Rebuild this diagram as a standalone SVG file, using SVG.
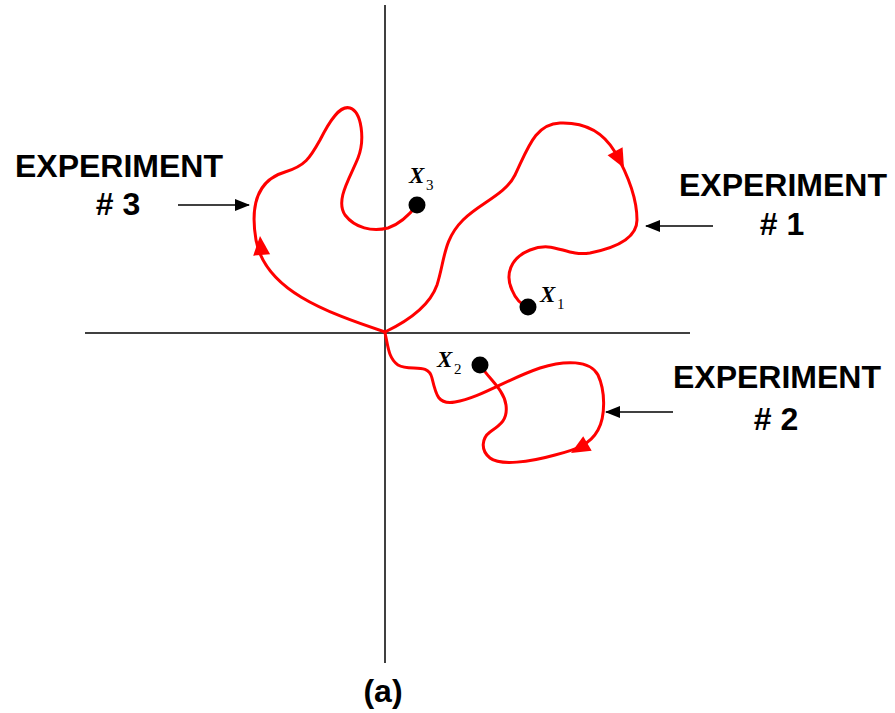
<svg xmlns="http://www.w3.org/2000/svg" width="895" height="713" viewBox="0 0 895 713">
<style>
.axis{stroke:#000;stroke-width:1.5;fill:none}
.path{stroke:#ff0000;stroke-width:3;fill:none;stroke-linecap:round;stroke-linejoin:round}
.ptr{stroke:#000;stroke-width:1.5;fill:none}
.lbl{font-family:"Liberation Sans",Arial,sans-serif;font-weight:bold;font-size:32px;fill:#000;text-anchor:middle}
.var{font-family:"Liberation Serif","Times New Roman",serif;font-style:italic;font-weight:bold;font-size:23px;fill:#000}
.sub{font-family:"Liberation Serif","Times New Roman",serif;font-size:15px;fill:#000}
.dot{fill:#000}
</style>
<defs>
<marker id="blk" markerWidth="15" markerHeight="12" refX="14" refY="6" orient="auto" markerUnits="userSpaceOnUse" viewBox="0 0 15 12">
<path d="M0,0 L15,6 L0,12 Z" fill="#000"/>
</marker>
<path id="redhead" d="M0,0 L-19,-8.5 L-19,8.5 Z" fill="#ff0000"/>
</defs>
<rect width="895" height="713" fill="#fff"/>
<g id="axes">
<line class="axis" x1="385" y1="5" x2="385" y2="663"/>
<line class="axis" x1="85" y1="333" x2="690" y2="333"/>
</g>
<g id="connectors">
<path id="exp3" class="path" d="M385,332 C325,312 265,290 256,240 C250,205 258,180 285,172 C305,166 310,158 320,140 C330,120 340,105 350,108 C362,112 365,140 358,158 C350,178 335,200 345,215 C355,228 372,232 388,228 C400,224 410,214 417,205"/>
<path id="exp1" class="path" d="M385,332 C410,320 430,305 437,285 C445,260 443,240 463,220 C480,203 505,195 515,175 C528,148 535,124 560,123 C588,122 605,135 615,152 C628,175 637,200 637,220 C637,238 615,248 590,253 C565,257 555,240 530,250 C510,258 505,275 512,290 C516,300 522,305 528,307"/>
<path id="exp2" class="path" d="M385,333 C388,345 388,358 398,365 C410,372 428,362 432,378 C436,395 438,405 455,402 C480,398 505,380 540,368 C565,360 590,360 598,375 C605,390 606,415 598,430 C590,445 575,450 555,455 C530,462 500,466 490,458 C480,450 482,438 490,432 C500,425 508,420 506,405 C504,390 490,380 480,365"/>
<use href="#redhead" transform="translate(260,236) rotate(-95)"/>
<use href="#redhead" transform="translate(624,168) rotate(62)"/>
<use href="#redhead" transform="translate(571,453) rotate(150)"/>
<line class="ptr" x1="178" y1="205" x2="249" y2="205" marker-end="url(#blk)"/>
<line class="ptr" x1="713" y1="226" x2="646" y2="226" marker-end="url(#blk)"/>
<line class="ptr" x1="673" y1="412" x2="606" y2="412" marker-end="url(#blk)"/>
</g>
<g id="x3">
<circle class="dot" cx="417" cy="205" r="8.5"/>
<text class="var" x="409" y="183">X</text><text class="sub" x="426" y="190">3</text>
</g>
<g id="x1">
<circle class="dot" cx="528" cy="307" r="8.5"/>
<text class="var" x="540" y="302">X</text><text class="sub" x="557" y="309">1</text>
</g>
<g id="x2">
<circle class="dot" cx="480" cy="365" r="8.5"/>
<text class="var" x="437" y="367">X</text><text class="sub" x="454" y="374">2</text>
</g>
<g id="label3">
<text class="lbl" x="119" y="177">EXPERIMENT</text>
<text class="lbl" x="118" y="215"># 3</text>
</g>
<g id="label1">
<text class="lbl" x="783" y="196">EXPERIMENT</text>
<text class="lbl" x="782" y="235"># 1</text>
</g>
<g id="label2">
<text class="lbl" x="777" y="388">EXPERIMENT</text>
<text class="lbl" x="776" y="430"># 2</text>
</g>
<g id="caption">
<text class="lbl" x="383" y="702">(a)</text>
</g>
</svg>
